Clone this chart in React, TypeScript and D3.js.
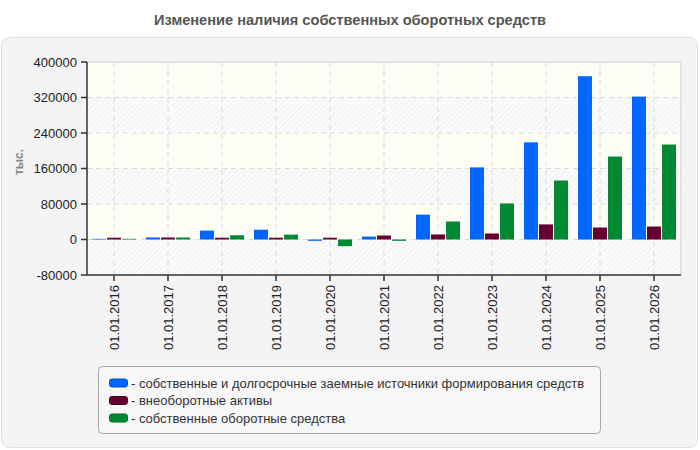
import React from 'react';
import * as d3 from 'd3';

const title = 'Изменение наличия собственных оборотных средств';
const categories = [
  '01.01.2016', '01.01.2017', '01.01.2018', '01.01.2019', '01.01.2020', '01.01.2021',
  '01.01.2022', '01.01.2023', '01.01.2024', '01.01.2025', '01.01.2026',
];
const seriesNames = [
  'собственные и долгосрочные заемные источники формирования средств',
  'внеоборотные активы',
  'собственные оборотные средства',
];
const sources = [1500, 4500, 20000, 22000, -3000, 6500, 56000, 162500, 219000, 368000, 322000];
const fixedAssets = [4000, 4500, 4000, 4000, 4000, 9000, 11300, 13500, 34000, 27000, 29300];
const workingCapital = [1500, 4500, 9500, 11000, -15000, -3000, 40600, 81200, 133000, 187000, 214000];
const yTicks = [-80000, 0, 80000, 160000, 240000, 320000, 400000];
const colors = ['#0066ff', '#660033', '#008833'];
const swatchStroke = ['#0050c8', '#44001f', '#006622'];

const W = 700;
const H = 450;
const m = { left: 87, right: 681, top: 62, bottom: 275 };

const App = () => {
  const series = [sources, fixedAssets, workingCapital];
  const x = d3.scaleBand<string>().domain(categories).range([m.left, m.right]);
  const inner = d3
    .scaleBand<number>()
    .domain([0, 1, 2])
    .range([5, x.bandwidth() - 5])
    .paddingInner(0.07);
  const y = d3.scaleLinear().domain([-80000, 400000]).range([m.bottom, m.top]);

  const bands = d3.pairs(yTicks);
  const font = 'Arial, "Liberation Sans", sans-serif';

  return (
    <svg
      width={W}
      height={H}
      style={{ position: 'absolute', left: 0, top: 0, fontFamily: font }}
    >
      <defs>
        <pattern id="hatch" width="4" height="4" patternUnits="userSpaceOnUse" patternTransform="rotate(45)">
          <rect width="4" height="4" fill="#fbfbfb" />
          <line x1="0" y1="0" x2="0" y2="4" stroke="#f0f0f0" strokeWidth="2" />
        </pattern>
      </defs>
      <rect x={0} y={0} width={W} height={H} fill="#fff" />
      <text x={350} y={25} textAnchor="middle" fontSize={14.6} fontWeight="bold" fill="#555">
        {title}
      </text>
      <rect x={1.5} y={37.5} width={696} height={410} rx={8} fill="#f4f4f4" stroke="#e0e0e0" />

      {/* alternating plot bands */}
      {bands.map(([a, b], i) => (
        <rect
          key={i}
          x={m.left}
          y={y(b)}
          width={m.right - m.left}
          height={y(a) - y(b)}
          fill={i % 2 === 0 ? 'url(#hatch)' : '#fcfdf5'}
        />
      ))}

      {/* grid */}
      {yTicks.slice(1, -1).map(t => (
        <line key={t} x1={m.left} x2={m.right} y1={y(t)} y2={y(t)} stroke="#dadada" strokeDasharray="5,4" />
      ))}
      {categories.map(c => {
        const cx = (x(c) as number) + x.bandwidth() / 2;
        return <line key={c} x1={cx} x2={cx} y1={m.top} y2={m.bottom} stroke="#dadada" strokeDasharray="5,4" />;
      })}
      <polyline
        points={`${m.left},${m.top} ${m.right},${m.top} ${m.right},${m.bottom}`}
        fill="none"
        stroke="#dcdcdc"
        strokeWidth={1.5}
      />

      {/* bars */}
      {series.map((vals, s) =>
        vals.map((v, i) => {
          const x0 = (x(categories[i]) as number) + (inner(s) as number);
          const y0 = y(Math.max(0, v));
          const h = Math.abs(y(v) - y(0));
          return <rect key={`${s}-${i}`} x={x0} y={y0} width={inner.bandwidth()} height={h} fill={colors[s]} />;
        })
      )}

      {/* axes */}
      <line x1={m.left} x2={m.left} y1={m.top} y2={m.bottom} stroke="#333" strokeWidth={1.5} />
      <line x1={m.left} x2={m.right} y1={m.bottom} y2={m.bottom} stroke="#333" strokeWidth={1.5} />
      {yTicks.map(t => (
        <g key={t}>
          <line x1={m.left - 6} x2={m.left} y1={y(t)} y2={y(t)} stroke="#333" strokeWidth={1.5} />
          <text x={m.left - 10} y={y(t)} dy="0.35em" textAnchor="end" fontSize={13} fill="#222">
            {t}
          </text>
        </g>
      ))}
      {categories.map(c => {
        const cx = (x(c) as number) + x.bandwidth() / 2;
        return (
          <g key={c}>
            <line x1={cx} x2={cx} y1={m.bottom} y2={m.bottom + 6} stroke="#333" strokeWidth={1.5} />
            <text
              transform={`translate(${cx},${m.bottom + 10}) rotate(-90)`}
              dy="0.35em"
              textAnchor="end"
              fontSize={13}
              fill="#222"
            >
              {c}
            </text>
          </g>
        );
      })}
      <text
        transform="translate(19,162) rotate(-90)"
        textAnchor="middle"
        dy="0.35em"
        fontSize={12}
        fontWeight="bold"
        fill="#888"
      >
        тыс.
      </text>

      {/* legend */}
      <rect x={98.5} y={366.5} width={502} height={67} rx={4} fill="#f7f7f7" stroke="#a8a8a8" />
      {seriesNames.map((name, i) => (
        <g key={name} transform={`translate(109,${383 + i * 17.5})`}>
          <rect x={0.5} y={-4} width={18} height={8} rx={2.5} fill={colors[i]} stroke={swatchStroke[i]} />
          <text x={22} dy="0.35em" fontSize={13} fill="#333">
            {'- ' + name}
          </text>
        </g>
      ))}
    </svg>
  );
};

export default App;
